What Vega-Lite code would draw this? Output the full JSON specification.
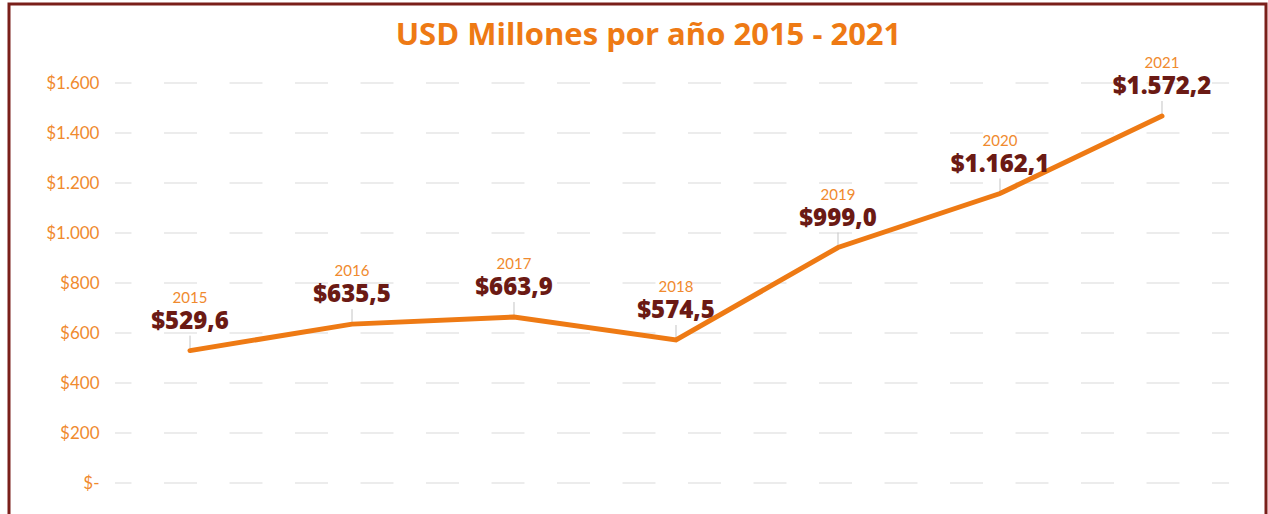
{
  "$schema": "https://vega.github.io/schema/vega-lite/v6.json",
  "width": 1257,
  "height": 520,
  "autosize": {"type": "none"},
  "padding": {"left": 9, "top": 4, "right": 2, "bottom": 0},
  "background": "#ffffff",
  "config": {
    "view": {"stroke": "#7A1F1A", "strokeWidth": 3},
    "locale": {"number": {"decimal": ",", "thousands": ".", "grouping": [3], "currency": ["$", ""]}}
  },
  "title": {
    "text": "USD Millones por año 2015 - 2021",
    "font": "Open Sans",
    "fontSize": 31,
    "fontWeight": "bold",
    "color": "#EE7A14",
    "anchor": "middle",
    "baseline": "alphabetic",
    "offset": 0,
    "dy": 72,
    "dx": 11
  },
  "datasets": {
    "grid": [
      {"g": 0}, {"g": 200}, {"g": 400}, {"g": 600}, {"g": 800},
      {"g": 1000}, {"g": 1200}, {"g": 1400}, {"g": 1600}
    ],
    "series": [
      {"year": 2015, "value": 529.6, "label": "$529,6"},
      {"year": 2016, "value": 635.5, "label": "$635,5"},
      {"year": 2017, "value": 663.9, "label": "$663,9"},
      {"year": 2018, "value": 572, "label": "$574,5"},
      {"year": 2019, "value": 942, "label": "$999,0"},
      {"year": 2020, "value": 1158, "label": "$1.162,1"},
      {"year": 2021, "value": 1468, "label": "$1.572,2"}
    ]
  },
  "layer": [
    {
      "data": {"name": "grid"},
      "mark": {"type": "rule", "color": "#E6E6E6", "strokeWidth": 1.5, "strokeDash": [33, 32.5], "strokeDashOffset": 16.5},
      "encoding": {
        "y": {
          "field": "g",
          "type": "quantitative",
          "scale": {"domain": [-164, 1916], "nice": false, "zero": false},
          "axis": {
            "values": [0, 200, 400, 600, 800, 1000, 1200, 1400, 1600],
            "format": "$,d",
            "labelExpr": "datum.value == 0 ? '$-' : datum.label",
            "grid": false,
            "ticks": false,
            "domain": false,
            "title": null,
            "offset": -92,
            "labelPadding": 2,
            "labelFont": "Lato",
            "labelFontSize": 17,
            "labelColor": "#F08A2E"
          }
        },
        "x": {"datum": 2014.537, "type": "quantitative", "scale": {"domain": [2013.8827, 2021.642], "nice": false, "zero": false}, "axis": null},
        "x2": {"datum": 2021.414}
      }
    },
    {
      "data": {"name": "series"},
      "mark": {"type": "rule", "color": "#C4C4C4", "strokeWidth": 1, "yOffset": -2, "y2Offset": -15},
      "encoding": {
        "x": {"field": "year", "type": "quantitative"},
        "y": {"field": "value", "type": "quantitative"},
        "y2": {"field": "value"}
      }
    },
    {
      "data": {"name": "series"},
      "mark": {"type": "line", "color": "#EE7A14", "strokeWidth": 5, "strokeCap": "round", "strokeJoin": "miter"},
      "encoding": {
        "x": {"field": "year", "type": "quantitative"},
        "y": {"field": "value", "type": "quantitative"}
      }
    },
    {
      "data": {"name": "series"},
      "mark": {"type": "text", "font": "Open Sans", "fontSize": 24, "fontWeight": 800, "color": "#6B1A14", "baseline": "alphabetic", "align": "center", "dy": -22},
      "encoding": {
        "x": {"field": "year", "type": "quantitative"},
        "y": {"field": "value", "type": "quantitative"},
        "text": {"field": "label"}
      }
    },
    {
      "data": {"name": "series"},
      "mark": {"type": "text", "font": "Lato", "fontSize": 15, "color": "#F08A2E", "baseline": "alphabetic", "align": "center", "dy": -48},
      "encoding": {
        "x": {"field": "year", "type": "quantitative"},
        "y": {"field": "value", "type": "quantitative"},
        "text": {"field": "year", "type": "nominal"}
      }
    }
  ]
}
